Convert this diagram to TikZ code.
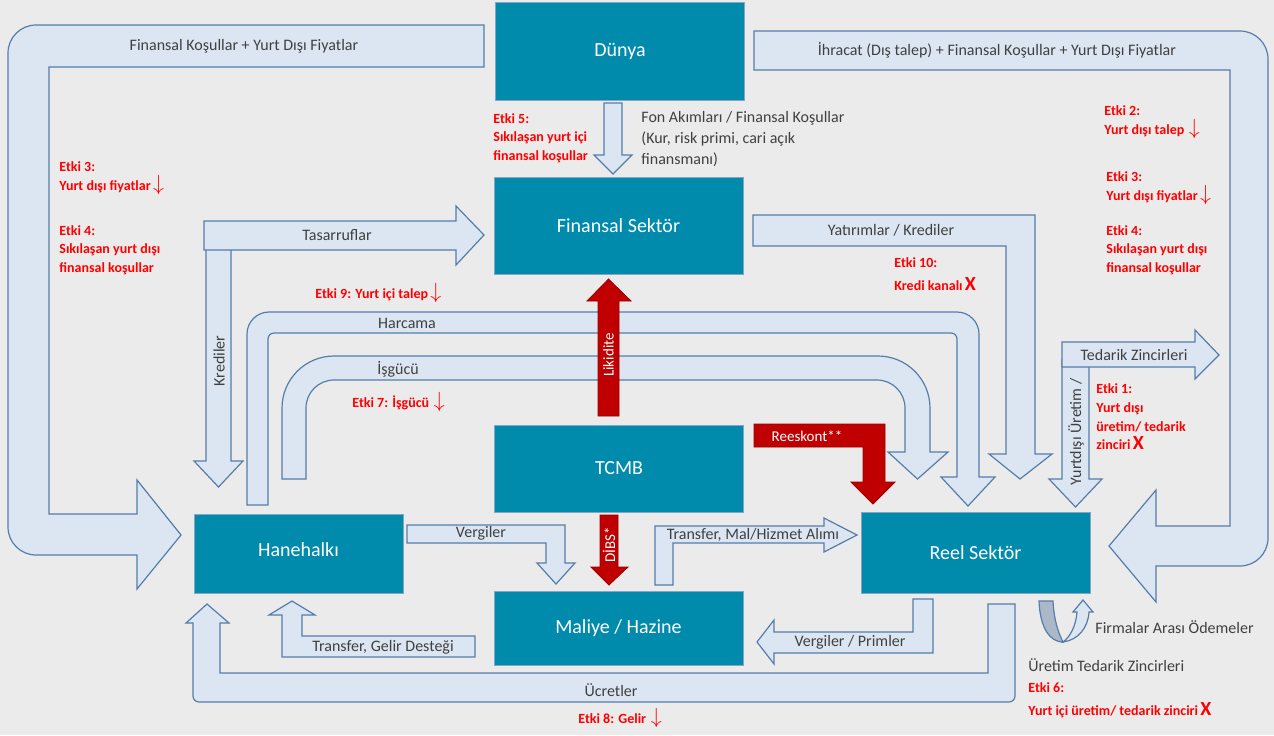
\documentclass[tikz,border=0pt]{standalone}
\usepackage{fontspec}
\setmainfont{Carlito}
\usepackage{amsmath}
\usepackage{xcolor}
\definecolor{bggray}{RGB}{235,235,235}
\definecolor{sectorteal}{RGB}{0,138,172}
\definecolor{flowfill}{RGB}{220,230,242}
\definecolor{flowline}{RGB}{85,125,170}
\definecolor{liqred}{RGB}{192,0,0}
\definecolor{etkired}{RGB}{255,0,0}
\definecolor{lblgray}{RGB}{64,64,64}
\definecolor{uturngray}{RGB}{170,184,200}
\newcommand{\dusus}{\,{\fontsize{11}{11}\selectfont$\downarrow$}}
\newcommand{\kesik}{\,{\fontsize{10}{10}\selectfont X}}

\begin{document}
\begin{tikzpicture}[x=0.5pt, y=-0.5pt,
        sector/.style={draw=flowline!70, line width=0.4pt, fill=sectorteal,
                       text=white, font=\fontsize{10}{12}\selectfont,
                       minimum width=124.5pt, inner sep=0pt},
        flow/.style={draw=flowline, line width=0.6pt, fill=flowfill},
        liq/.style={draw=liqred!80!black, line width=0.4pt, fill=liqred},
        lbl/.style={text=lblgray, font=\fontsize{8}{10.5}\selectfont, inner sep=0pt},
        wlbl/.style={text=white, font=\fontsize{7.5}{9}\selectfont, inner sep=0pt},
        etki/.style={text=etkired, font=\fontsize{7}{9.3}\selectfont\bfseries,
                     align=left, anchor=west, inner sep=0pt}
    ]
        \useasboundingbox (0,0) rectangle (1274,735);
        \fill[bggray] (0,0) rectangle (1274,735);

        \node[sector, minimum height=49pt]   (dunya)  at (620,51)    {Dünya};
        \node[sector, minimum height=48.5pt] (finans) at (618.5,225.5) {Finansal Sektör};
        \node[sector, minimum height=43.5pt] (tcmb)   at (619,468.5) {TCMB};
        \node[sector, minimum height=37pt]   (maliye) at (618.5,628) {Maliye / Hazine};
        \node[sector, minimum width=104.5pt, minimum height=39.5pt] (hane) at (298.5,553.5) {\raisebox{4pt}{Hanehalkı}};
        \node[sector, minimum width=114.5pt, minimum height=40.5pt] (reel) at (975.5,552.5) {Reel Sektör};

        \draw[flow] (484,25) [rounded corners=14pt] -- (8,25) -- (8,555) -- (100,555)
            [sharp corners] -- (137,555) -- (137,589) -- (181,535) -- (137,480)
            -- (137,514) -- (49,514) -- (49,67) -- (484,67) -- cycle;
        \draw[flow] (754,31) [rounded corners=14pt] -- (1268,31) -- (1268,566) -- (1200,566)
            [sharp corners] -- (1156,566) -- (1156,602) -- (1109,546) -- (1156,490)
            -- (1156,526) -- (1230,526) -- (1230,70) -- (754,70) -- cycle;
        \draw[flow] (604,103) -- (622,103) -- (622,155) -- (632,155) -- (613,174)
            -- (594,155) -- (604,155) -- cycle;
        \draw[flow] (206,245) -- (231,245) -- (231,461) -- (243,461) -- (218.5,487)
            -- (194,461) -- (206,461) -- cycle;
        \draw[flow] (204,221) -- (456,221) -- (456,206) -- (484,235) -- (456,265)
            -- (456,250) -- (204,250) -- cycle;
        \draw[flow] (247,505) -- (247,334) arc[start angle=180, end angle=90, radius=11pt]
            -- (957,312) arc[start angle=90, end angle=0, radius=11pt]
            -- (979,477) -- (995,477) -- (968,506) -- (941,477) -- (957,477)
            -- (957,339) arc[start angle=0, end angle=90, radius=3pt]
            -- (274,333) arc[start angle=90, end angle=180, radius=3pt]
            -- (268,505) -- cycle;
        \draw[flow] (282,479) -- (282,408) arc[start angle=180, end angle=90, radius=26pt]
            -- (878,356) arc[start angle=90, end angle=0, radius=26pt]
            -- (930,452) -- (948,452) -- (917.5,479) -- (888,452) -- (905,452)
            -- (905,408) arc[start angle=0, end angle=90, radius=14pt]
            -- (334,380) arc[start angle=90, end angle=180, radius=14pt]
            -- (306,479) -- cycle;
        \draw[flow] (753,215) -- (1035,215) -- (1035,454) -- (1052,454) -- (1020,479)
            -- (989,454) -- (1006,454) -- (1006,246) -- (753,246) -- cycle;
        \draw[flow] (1062,360) -- (1089,360) -- (1089,479) -- (1102,479) -- (1075.5,507)
            -- (1049,479) -- (1062,479) -- cycle;
        \draw[flow] (1062,342) -- (1195,342) -- (1195,330) -- (1219,355) -- (1195,379)
            -- (1195,367) -- (1062,367) -- cycle;
        \draw[flow] (407,525) -- (565,525) -- (565,563) -- (575,563) -- (556,584)
            -- (537,563) -- (546,563) -- (546,543) -- (407,543) -- cycle;
        \draw[flow] (655,585) -- (655,526) -- (824,526) -- (824,518) -- (857,535)
            -- (824,552) -- (824,543) -- (673,543) -- (673,585) -- cycle;
        \draw[flow] (913,599) -- (933,599) -- (933,653) -- (774,653) -- (774,664)
            -- (757,642) -- (774,620) -- (774,632) -- (913,632) -- cycle;
        \draw[flow] (475,636) -- (475,657) -- (282,657) -- (282,615) -- (269,615)
            -- (292,601) -- (315,615) -- (302,615) -- (302,636) -- cycle;
        \draw[flow] (988,604) -- (1015,604) [rounded corners=3pt] -- (1015,702) -- (193,702)
            -- (193,650) [sharp corners] -- (193,623) -- (186,623) -- (207,604)
            -- (229,623) -- (220,623) -- (220,673) -- (988,673) -- cycle;
        \draw[flow, fill=uturngray] (1039,601) .. controls (1040,628) and (1050,642) .. (1063,642)
            .. controls (1058,632) and (1054,620) .. (1053,601) -- cycle;
        \draw[flow] (1063,642) .. controls (1078,640) and (1088,628) .. (1089,612)
            -- (1093,612) -- (1083,600) -- (1073,612) -- (1077,612)
            .. controls (1076,626) and (1070,637) .. (1063,642) -- cycle;

        \draw[liq] (598,416) -- (598,301) -- (587,301) -- (608.5,279) -- (631,301)
            -- (619,301) -- (619,416) -- cycle;
        \draw[liq] (754,424) -- (885,424) -- (885,482) -- (895,482) -- (873,504)
            -- (851,482) -- (863,482) -- (863,447) -- (754,447) -- cycle;
        \draw[liq] (600,515) -- (618,515) -- (618,567) -- (628,567) -- (609,585)
            -- (591,567) -- (600,567) -- cycle;

        \node[lbl] (disfin)   at (244,46)   {Finansal Koşullar + Yurt Dışı Fiyatlar};
        \node[lbl] (ihracat)  at (997,50)   {İhracat (Dış talep) + Finansal Koşullar + Yurt Dışı Fiyatlar};
        \node[lbl, align=left, anchor=north west] (fon) at (641,111)
            {Fon Akımları / Finansal Koşullar\\(Kur, risk primi, cari açık\\finansmanı)};
        \node[lbl] (tasarruf) at (337,235)  {Tasarruflar};
        \node[lbl, rotate=90] (kredi) at (219,361) {Krediler};
        \node[lbl] (harcama)  at (407,323)  {Harcama};
        \node[lbl] (isgucu)   at (398,369)  {İşgücü};
        \node[lbl] (yatirim)  at (891,230)  {Yatırımlar / Krediler};
        \node[lbl] (tedarik)  at (1134,355) {Tedarik Zincirleri};
        \node[lbl, rotate=90] (ydu) at (1076,432) {Yurtdışı Üretim /};
        \node[lbl] (vergi)    at (481,533)  {Vergiler};
        \node[lbl] (malhiz)   at (753,535)  {Transfer, Mal/Hizmet Alımı};
        \node[lbl] (prim)     at (850,642)  {Vergiler / Primler};
        \node[lbl] (gelirdes) at (383,647)  {Transfer, Gelir Desteği};
        \node[lbl] (ucret)    at (611,690)  {Ücretler};
        \node[lbl, anchor=west] (firma)  at (1095,627) {Firmalar Arası Ödemeler};
        \node[lbl, anchor=west] (uretim) at (1028,665) {Üretim Tedarik Zincirleri};
        \node[wlbl, rotate=90] (likidite) at (608.5,355) {Likidite};
        \node[wlbl] (reeskont) at (807,436) {Reeskont**};
        \node[wlbl, rotate=90] (dibs) at (609,545) {DİBS*};

        \node[etki] (etki3a) at (59,178.5)  {Etki 3:\\Yurt dışı fiyatlar\dusus};
        \node[etki] (etki4a) at (59,250)    {Etki 4:\\Sıkılaşan yurt dışı\\finansal koşullar};
        \node[etki] (etki2)  at (1104,122.5) {Etki 2:\\Yurt dışı talep\,\dusus};
        \node[etki] (etki3b) at (1106,188)  {Etki 3:\\Yurt dışı fiyatlar\dusus};
        \node[etki] (etki4b) at (1106,250)  {Etki 4:\\Sıkılaşan yurt dışı\\finansal koşullar};
        \node[etki] (etki5)  at (493,138)   {Etki 5:\\Sıkılaşan yurt içi\\finansal koşullar};
        \node[etki, font=\fontsize{7}{11.5}\selectfont\bfseries] (etki10) at (894,274.5) {Etki 10:\\Kredi kanalı\kesik};
        \node[etki] (etki9)  at (315,293)   {Etki 9: Yurt içi talep\dusus};
        \node[etki] (etki7)  at (352,402)   {Etki 7: İşgücü\,\dusus};
        \node[etki] (etki1)  at (1096,417)  {Etki 1:\\Yurt dışı\\üretim/ tedarik\\zinciri\kesik};
        \node[etki] (etki8)  at (578,718)   {Etki 8: Gelir\,\dusus};
        \node[etki, font=\fontsize{7}{11.5}\selectfont\bfseries] (etki6) at (1028,700.5) {Etki 6:\\Yurt içi üretim/ tedarik zinciri\kesik};
    \end{tikzpicture}
\end{document}
